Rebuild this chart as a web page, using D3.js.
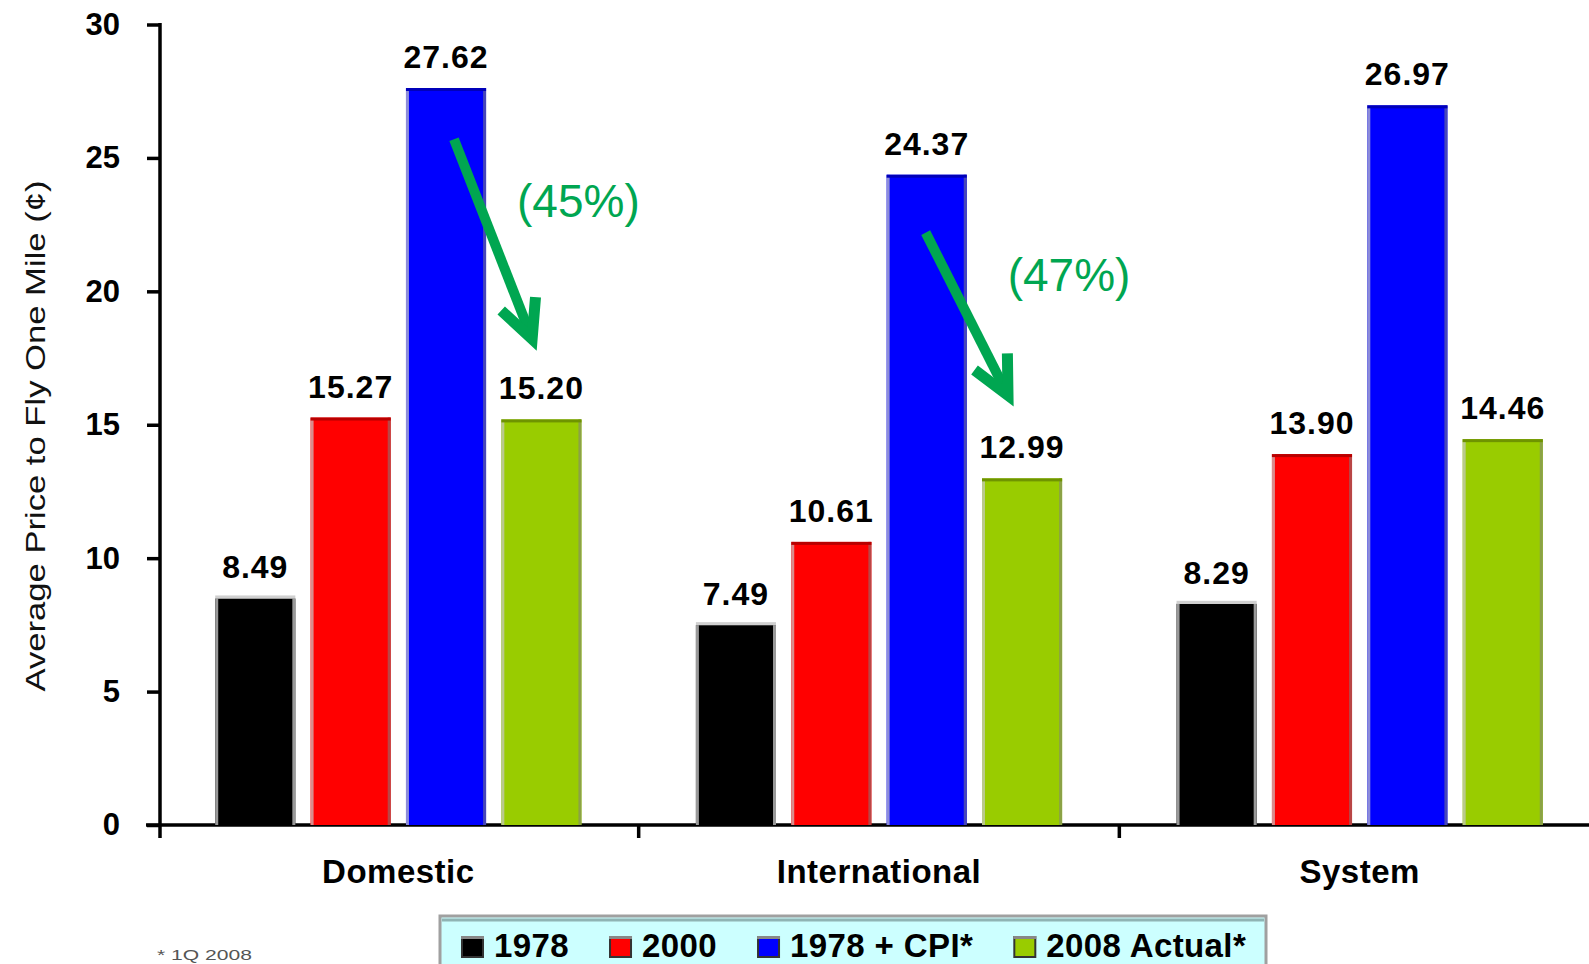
<!DOCTYPE html>
<html>
<head>
<meta charset="utf-8">
<script src="https://cdn.jsdelivr.net/npm/d3@7"></script>
<style>
  html, body { margin: 0; padding: 0; background: #fff; }
  svg { display: block; }
</style>
</head>
<body>
<div id="chart"></div>
<script>
const categories = ['Domestic', 'International', 'System'];
const seriesNames = ['1978', '2000', '1978 + CPI*', '2008 Actual*'];
const seriesColors = ['#000000', '#ff0000', '#0000ff', '#99cc00'];

const values1978 = [8.49, 7.49, 8.29];
const values2000 = [15.27, 10.61, 13.90];
const valuesCPI = [27.62, 24.37, 26.97];
const values2008 = [15.20, 12.99, 14.46];
const seriesValues = [values1978, values2000, valuesCPI, values2008];

const yTicks = [0, 5, 10, 15, 20, 25, 30];

// change annotations: from the CPI bar down to the actual bar
const arrowCategories = ['Domestic', 'International'];
const arrowFrom = [25.7, 22.2];
const arrowTo = [17.9, 15.8];
const changeLabels = ['(45%)', '(47%)'];
const changeLabelValues = [22.8, 20.0];

const footnote = '* 1Q 2008';
const yTitle = 'Average Price to Fly One Mile (\u00a2)';

const FONT = '"Liberation Sans", Arial, Helvetica, sans-serif';
const W = 1589, H = 964;

const svg = d3.select('#chart')
  .append('svg')
  .attr('width', W)
  .attr('height', H)
  .attr('font-family', FONT);

svg.append('rect').attr('width', W).attr('height', H).attr('fill', '#fff');

// --- Scales ---
const y = d3.scaleLinear().domain([0, 30]).range([825, 24.5]);

const x0 = d3.scaleBand()
  .domain(categories)
  .range([158, 1600])
  .padding(0);

const x1 = d3.scaleBand()
  .domain(seriesNames)
  .range([0, x0.bandwidth()])
  .paddingInner(0.16)
  .paddingOuter(0.6);

const color = d3.scaleOrdinal().domain(seriesNames).range(seriesColors);

// --- Y axis ---
const yAxis = svg.append('g')
  .attr('transform', 'translate(160,0)')
  .call(d3.axisLeft(y).tickValues(yTicks).tickSize(13).tickSizeOuter(0).tickPadding(27));

yAxis.select('.domain').remove();
yAxis.attr('font-family', FONT).attr('font-size', 31).attr('font-weight', 'bold');
yAxis.selectAll('line').attr('stroke', '#000').attr('stroke-width', 3.5);
yAxis.selectAll('text').attr('fill', '#000');

svg.append('line')
  .attr('x1', 160).attr('x2', 160)
  .attr('y1', y(30) - 1.5).attr('y2', 838)
  .attr('stroke', '#000').attr('stroke-width', 3.5);

// --- X axis ---
svg.append('line')
  .attr('x1', 146).attr('x2', x0.range()[1])
  .attr('y1', y(0)).attr('y2', y(0))
  .attr('stroke', '#000').attr('stroke-width', 3.5);

const xTicks = categories.map(c => x0(c)).concat([x0.range()[1]]);
svg.selectAll('.xtick')
  .data(xTicks.slice(1))
  .enter().append('line')
  .attr('class', 'xtick')
  .attr('x1', d => d).attr('x2', d => d)
  .attr('y1', y(0)).attr('y2', 838)
  .attr('stroke', '#000').attr('stroke-width', 3.5);

svg.selectAll('.cat-label')
  .data(categories)
  .enter().append('text')
  .attr('class', 'cat-label')
  .attr('x', d => x0(d) + x0.bandwidth() / 2)
  .attr('y', 883)
  .attr('text-anchor', 'middle')
  .attr('font-size', 33)
  .attr('font-weight', 'bold')
  .attr('letter-spacing', 0.5)
  .attr('fill', '#000')
  .text(d => d);

// y title
svg.append('text')
  .attr('transform', 'translate(35,436) rotate(-90)')
  .attr('text-anchor', 'middle')
  .attr('dy', '0.35em')
  .attr('font-size', 28)
  .attr('fill', '#111')
  .attr('textLength', 511)
  .attr('lengthAdjust', 'spacingAndGlyphs')
  .text(yTitle);

// --- Bars ---
const rows = categories.map((c, i) => ({
  category: c,
  values: seriesNames.map((s, j) => ({ series: s, value: seriesValues[j][i] }))
}));

const groups = svg.selectAll('.group')
  .data(rows)
  .enter().append('g')
  .attr('class', 'group')
  .attr('transform', d => `translate(${x0(d.category)},0)`);

const bars = groups.selectAll('.bar')
  .data(d => d.values)
  .enter().append('g')
  .attr('class', 'bar');

const bw = x1.bandwidth();

bars.append('rect')
  .attr('x', d => x1(d.series))
  .attr('y', d => y(d.value))
  .attr('width', bw)
  .attr('height', d => y(0) - y(d.value))
  .attr('fill', d => color(d.series));

// soft edges like the original shading
bars.append('rect')
  .attr('x', d => x1(d.series))
  .attr('y', d => y(d.value))
  .attr('width', 3)
  .attr('height', d => y(0) - y(d.value))
  .attr('fill', d => d.series === '1978' ? '#999' : d3.interpolateRgb(color(d.series), '#c8c8c8')(0.7));

bars.append('rect')
  .attr('x', d => x1(d.series) + bw - 3)
  .attr('y', d => y(d.value))
  .attr('width', 3)
  .attr('height', d => y(0) - y(d.value))
  .attr('fill', d => d.series === '1978' ? '#999' : d3.interpolateRgb(color(d.series), '#808080')(0.55));

bars.append('rect')
  .attr('x', d => x1(d.series))
  .attr('y', d => y(d.value) - (d.series === '1978' ? 3 : 0))
  .attr('width', bw)
  .attr('height', 3)
  .attr('fill', d => d.series === '1978' ? '#d0d0d0' : d3.color(color(d.series)).darker(0.9));

bars.append('text')
  .attr('x', d => x1(d.series) + bw / 2)
  .attr('y', d => y(d.value) - 20)
  .attr('text-anchor', 'middle')
  .attr('font-size', 32)
  .attr('font-weight', 'bold')
  .attr('letter-spacing', 1)
  .attr('fill', '#000')
  .text(d => d3.format('.2f')(d.value));

// --- Change arrows ---
const green = '#00a651';
arrowCategories.forEach((cat, k) => {
  const sx = x0(cat) + x1('1978 + CPI*') + bw / 2 + (k === 0 ? 8 : -1);
  const sy = y(arrowFrom[k]);
  const tx = x0(cat) + x1('2008 Actual*') + bw / 2 - (k === 0 ? 6 : 10);
  const ty = y(arrowTo[k]);
  const back = Math.atan2(sy - ty, sx - tx);
  const ux = Math.cos(back), uy = Math.sin(back);
  const hx = tx + ux * 9, hy = ty + uy * 9;
  const a = 26 * Math.PI / 180, len = 42;

  svg.append('line')
    .attr('x1', sx).attr('y1', sy)
    .attr('x2', hx + ux * 6).attr('y2', hy + uy * 6)
    .attr('stroke', green).attr('stroke-width', 10);

  svg.append('path')
    .attr('d', d3.line()([
      [hx + Math.cos(back - a) * len, hy + Math.sin(back - a) * len],
      [hx, hy],
      [hx + Math.cos(back + a) * len, hy + Math.sin(back + a) * len]
    ]))
    .attr('fill', 'none')
    .attr('stroke', green)
    .attr('stroke-width', 11)
    .attr('stroke-linejoin', 'miter')
    .attr('stroke-miterlimit', 10);

  svg.append('text')
    .attr('x', x0(cat) + x1('2008 Actual*') + bw / 2 + (k === 0 ? 37 : 47))
    .attr('y', y(changeLabelValues[k]))
    .attr('text-anchor', 'middle')
    .attr('font-size', 46)
    .attr('fill', green)
    .text(changeLabels[k]);
});

// --- Legend ---
const legend = svg.append('g');
legend.append('rect')
  .attr('x', 440).attr('y', 916)
  .attr('width', 826).attr('height', 70)
  .attr('fill', '#ccffff')
  .attr('stroke', '#a0a0a0')
  .attr('stroke-width', 3);
legend.append('line')
  .attr('x1', 442).attr('x2', 1264)
  .attr('y1', 920).attr('y2', 920)
  .attr('stroke', '#8fb4b4').attr('stroke-width', 3);

let lx = 462;
seriesNames.forEach((s, j) => {
  legend.append('rect')
    .attr('x', lx).attr('y', 937)
    .attr('width', 21).attr('height', 20)
    .attr('fill', seriesColors[j])
    .attr('stroke', '#333')
    .attr('stroke-width', 2);
  legend.append('line')
    .attr('x1', lx - 1).attr('x2', lx + 22)
    .attr('y1', 937.5).attr('y2', 937.5)
    .attr('stroke', '#888').attr('stroke-width', 3);
  const t = legend.append('text')
    .attr('x', lx + 32)
    .attr('y', 957)
    .attr('font-size', 33)
    .attr('font-weight', 'bold')
    .attr('letter-spacing', 0.4)
    .attr('fill', '#000')
    .text(s);
  lx += 32 + t.node().getComputedTextLength() + 41;
});

// footnote
svg.append('text')
  .attr('x', 157)
  .attr('y', 960)
  .attr('font-size', 15)
  .attr('fill', '#555')
  .attr('textLength', 95)
  .attr('lengthAdjust', 'spacingAndGlyphs')
  .text(footnote);
</script>
</body>
</html>
